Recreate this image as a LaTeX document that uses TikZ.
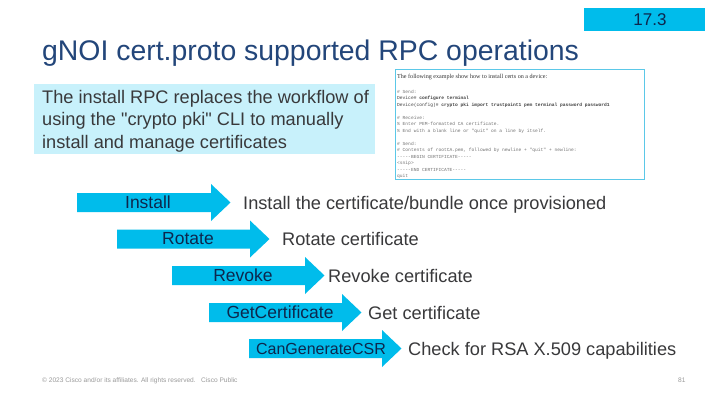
\documentclass[tikz,border=0pt]{standalone}
\usepackage{fontspec}
\setmainfont{Liberation Sans}
\newfontfamily\qfont{Liberation Sans}[Ligatures=ResetAll]
\newfontfamily\codefont{Liberation Mono}[Ligatures=ResetAll]
\newfontfamily\serifhead{Liberation Serif}
\definecolor{ciscocyan}{HTML}{00BCEB}
\definecolor{palecyan}{HTML}{C8F1FB}
\definecolor{titleblue}{HTML}{23467A}
\definecolor{labelnavy}{HTML}{0D274D}
\definecolor{desctext}{HTML}{39393B}
\definecolor{shotborder}{HTML}{5BC8E8}
\definecolor{footgray}{HTML}{9A9A9A}
\newcommand\rpcarrow[3]{%
  \fill[ciscocyan] (#1,#3-9.5) -- (#2,#3-9.5) -- (#2,#3-18.5) -- (#2+19.5,#3)
    -- (#2,#3+18.5) -- (#2,#3+9.5) -- (#1,#3+9.5) -- cycle;}
\newcommand\dq{{\qfont\char34\relax}}
\newcommand\cdq{\char34\relax}
\begin{document}
\begin{tikzpicture}[x=1pt,y=-1pt,
  lbl/.style={text=labelnavy,font=\fontsize{17.5}{20}\selectfont,inner sep=0pt},
  desc/.style={text=desctext,font=\fontsize{18.2}{20}\selectfont,inner sep=0pt,anchor=base west},
  codeline/.style={inner sep=0pt,anchor=base west,font=\codefont\fontsize{4.6}{6.46}\selectfont,text=black!75},
  cmt/.style={codeline,text=black!55}]
\useasboundingbox[fill=white] (0,0) rectangle (720,405);
% version tag
\fill[ciscocyan] (584,8) rectangle (705,31);
\node[text=labelnavy,font=\fontsize{17}{20}\selectfont,inner sep=0pt] (ver) at (650,19.5) {17.3};
% title
\node[text=titleblue,font=\fontsize{28.4}{32}\selectfont,inner sep=0pt,anchor=base west] (title) at (42,60) {gNOI cert.proto supported RPC operations};
% info box
\fill[palecyan] (34,84) rectangle (375,154);
\node[desc] (info1) at (42,103.5) {The install RPC replaces the workflow of};
\node[desc] (info2) at (42,125.5) {using the \dq crypto pki\dq{} CLI to manually};
\node[desc] (info3) at (42,148) {install and manage certificates};
% screenshot
\draw[shotborder,line width=0.8pt,fill=white] (395,69) rectangle (644,179);
\node[inner sep=0pt,anchor=base west,font=\serifhead\fontsize{6.1}{7}\selectfont,text=black!80] (shothead) at (397,78) {The following example show how to install certs on a device:};
\node[cmt] (c1) at (397,93) {\# Send:};
\node[codeline] (c2) at (397,99.5) {Device\# \textbf{configure terminal}};
\node[codeline] (c3) at (397,106) {Device(config)\# \textbf{crypto pki import trustpoint1 pem terminal password password1}};
\node[cmt] (c4) at (397,119) {\# Receive:};
\node[cmt] (c5) at (397,125.5) {\% Enter PEM-formatted CA certificate.};
\node[cmt] (c6) at (397,132) {\% End with a blank line or \cdq quit\cdq{} on a line by itself.};
\node[cmt] (c7) at (397,145) {\# Send:};
\node[cmt] (c8) at (397,151.5) {\# Contents of rootCA.pem, followed by newline + \cdq quit\cdq{} + newline:};
\node[cmt] (c9) at (397,158) {-----BEGIN CERTIFICATE-----};
\node[cmt] (c10) at (397,164.5) {<snip>};
\node[cmt] (c11) at (397,171) {-----END CERTIFICATE-----};
\node[cmt] (c12) at (397,177.5) {quit};
% arrows
\rpcarrow{77}{211}{202.5}
\node[lbl] (install) at (148,202.5) {Install};
\node[desc] (dinstall) at (243,209) {Install the certificate/bundle once provisioned};
\rpcarrow{117}{250}{239}
\node[lbl] (rotate) at (188,239) {Rotate};
\node[desc] (drotate) at (282,245.5) {Rotate certificate};
\rpcarrow{172}{305}{275.5}
\node[lbl] (revoke) at (243,275.5) {Revoke};
\node[desc] (drevoke) at (328,282) {Revoke certificate};
\rpcarrow{209}{342}{312.5}
\node[lbl] (getcert) at (280,312.5) {GetCertificate};
\node[desc] (dgetcert) at (368,319) {Get certificate};
\rpcarrow{249}{382}{348.5}
\node[lbl,font=\fontsize{16}{18}\selectfont] (cangen) at (321,348.5) {CanGenerateCSR};
\node[desc] (dcangen) at (408,355) {Check for RSA X.509 capabilities};
% footer
\node[inner sep=0pt,anchor=base west,font=\fontsize{6.6}{8}\selectfont,text=footgray] (foot) at (42,382) {© 2023  Cisco and/or its affiliates. All rights reserved.~~~Cisco Public};
\node[inner sep=0pt,anchor=base west,font=\fontsize{6.6}{8}\selectfont,text=footgray] (page) at (678,382) {81};
\end{tikzpicture}
\end{document}
